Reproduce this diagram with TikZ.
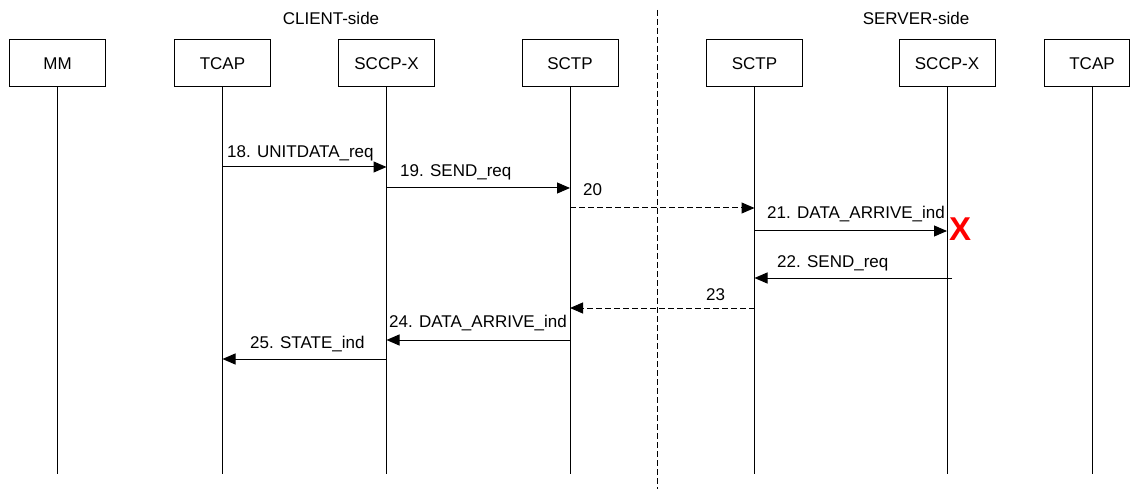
\documentclass[tikz,border=0pt]{standalone}
\usepackage{fontspec}
\setmainfont{Liberation Sans}
\usetikzlibrary{arrows.meta}

\begin{document}
\begin{tikzpicture}[x=1pt, y=-1pt,
  every node/.style={font=\fontsize{17}{20}\selectfont, inner sep=0pt},
  entity/.style={draw, line width=1pt, minimum width=96pt, minimum height=47pt},
  life/.style={line width=1pt},
  msg/.style={line width=1pt, -{Triangle[length=13pt, width=11pt]}},
  dmsg/.style={msg, dash pattern=on 6pt off 3pt},
  lbl/.style={anchor=west},
  sep/.style={line width=1pt, dash pattern=on 6pt off 3pt}
]
  % page frame
  \useasboundingbox (0,0) rectangle (1130,489);

  % side captions
  \node (client) at (331,18) {CLIENT-side};
  \node (server) at (916,18) {SERVER-side};

  % client / server separator
  \coordinate (septop) at (657,10);
  \coordinate (sepbot) at (657,489);
  \draw[sep] (septop) -- (sepbot);

  % entities
  \node[entity] (mm)    at (57.5,63.5)  {MM};
  \node[entity] (tcapA) at (222.5,63.5) {TCAP};
  \node[entity] (sccpA) at (386.5,63.5) {SCCP-X};
  \node[entity] (sctpA) at (570,63.5)   {SCTP};
  \node[entity] (sctpB) at (754.5,63.5) {SCTP};
  \node[entity] (sccpB) at (947,63.5)   {SCCP-X};
  \node[entity, minimum width=85pt] (tcapB) at (1087,63.5) {\hspace{10pt}TCAP};

  % lifelines
  \foreach \n in {mm,tcapA,sccpA,sctpA,sctpB,sccpB}
    \draw[life] (\n.south) -- (\n.south |- 0,474);
  \coordinate (tcapBtop) at (1092,87);
  \draw[life] (tcapBtop) -- (1092,474);

  % messages
  \draw[msg]  (tcapA |- 0,167) -- (sccpA |- 0,167);
  \node[lbl] (l18) at (227,153) {18. UNITDATA\_req};

  \draw[msg]  (sccpA |- 0,188) -- (sctpA |- 0,188);
  \node[lbl] (l19) at (400,172) {19. SEND\_req};

  \draw[dmsg] (sctpA |- 0,208) -- (sctpB |- 0,208);
  \node[lbl] (l20) at (583,190) {20};

  \draw[msg]  (sctpB |- 0,231) -- (sccpB |- 0,231);
  \node[lbl] (l21) at (767,214) {21. DATA\_ARRIVE\_ind};
  \node[text=red, font=\fontsize{33}{33}\bfseries\selectfont] (fail) at (960,229) {X};

  \draw[msg]  ([xshift=5pt]sccpB |- 0,278) -- (sctpB |- 0,278);
  \node[lbl] (l22) at (777,263) {22. SEND\_req};

  \draw[dmsg] (sctpB |- 0,308) -- (sctpA |- 0,308);
  \node[lbl] (l23) at (706,295) {23};

  \draw[msg]  (sctpA |- 0,340) -- (sccpA |- 0,340);
  \node[lbl] (l24) at (389,323) {24. DATA\_ARRIVE\_ind};

  \draw[msg]  (sccpA |- 0,359) -- (tcapA |- 0,359);
  \node[lbl] (l25) at (250,344) {25. STATE\_ind};
\end{tikzpicture}
\end{document}
